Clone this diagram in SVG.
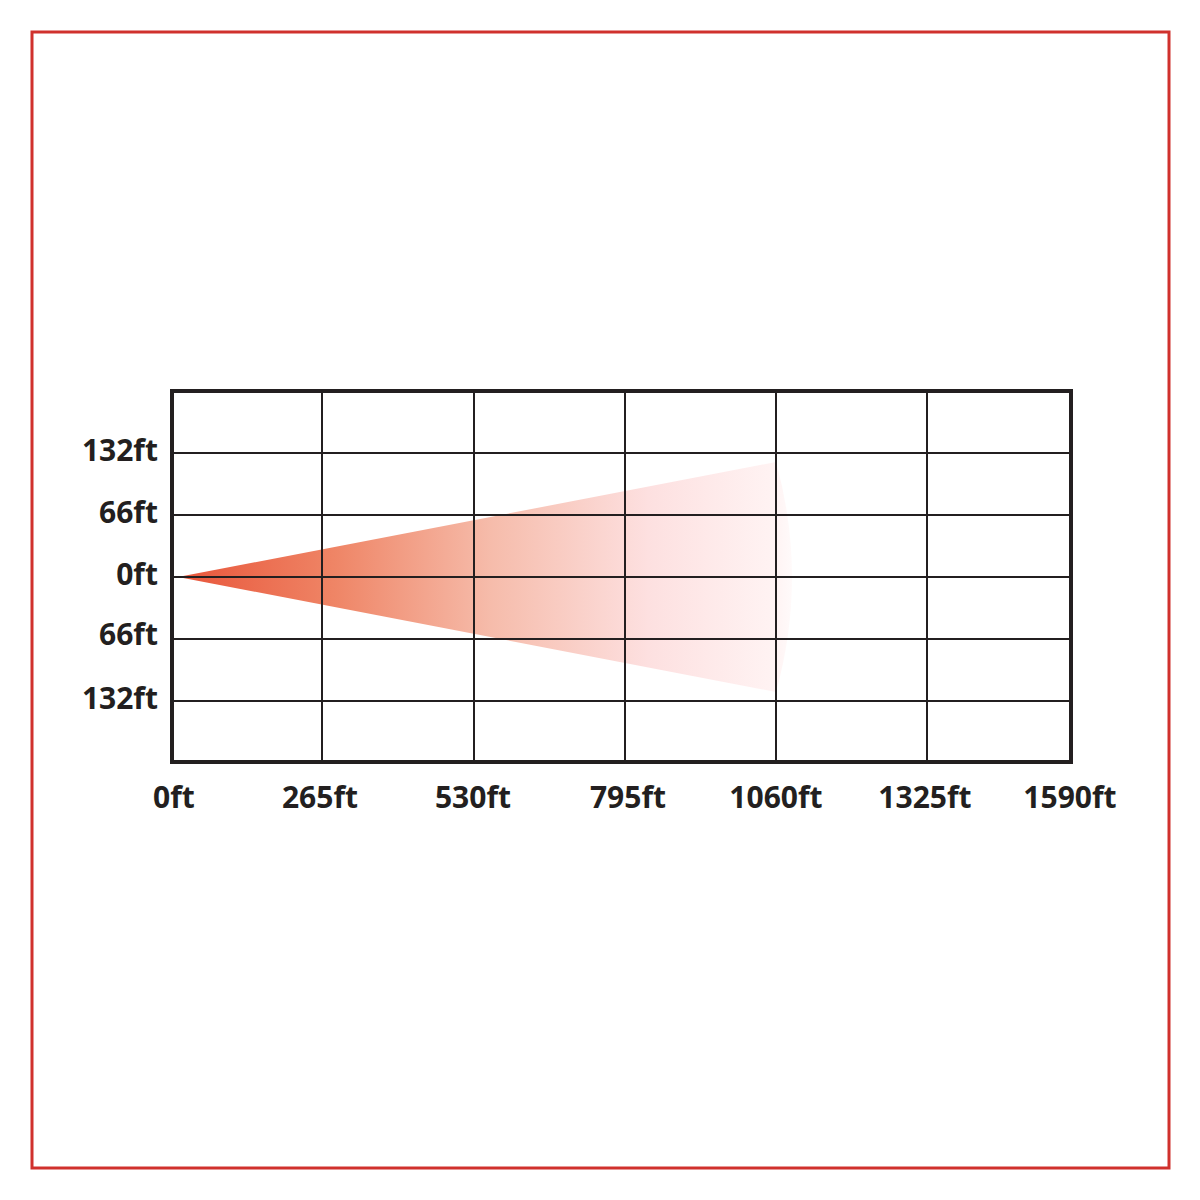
<svg xmlns="http://www.w3.org/2000/svg" width="1200" height="1200" viewBox="0 0 1200 1200">
<style>
.lbl{font-family:"Open Sans","Liberation Sans",sans-serif;font-weight:700;font-size:30px;fill:#231f20}
.y{text-anchor:end}
.x{text-anchor:middle}
.grid{stroke:#231f20;stroke-width:2;fill:none}
</style>
<defs>
<linearGradient id="beamGrad" gradientUnits="userSpaceOnUse" x1="178" y1="0" x2="805" y2="0">
<stop offset="0" stop-color="#e8553a"/>
<stop offset="0.25" stop-color="#ef8566"/>
<stop offset="0.5" stop-color="#f6bcab"/>
<stop offset="0.75" stop-color="#fde0e0"/>
<stop offset="0.95" stop-color="#fff3f3"/>
<stop offset="1" stop-color="#ffffff"/>
</linearGradient>
</defs>
<rect width="1200" height="1200" fill="#ffffff"/>
<rect x="32" y="32" width="1137" height="1136" fill="none" stroke="#d0312d" stroke-width="3"/>
<g id="beam">
<path d="M178,577 L776,462 Q808,577 776,692 Z" fill="url(#beamGrad)"/>
</g>
<g id="grid" class="grid">
<line x1="322" y1="391" x2="322" y2="762"/>
<line x1="474" y1="391" x2="474" y2="762"/>
<line x1="625" y1="391" x2="625" y2="762"/>
<line x1="776" y1="391" x2="776" y2="762"/>
<line x1="927" y1="391" x2="927" y2="762"/>
<line x1="172" y1="453" x2="1071" y2="453"/>
<line x1="172" y1="515" x2="1071" y2="515"/>
<line x1="172" y1="577" x2="1071" y2="577"/>
<line x1="172" y1="639" x2="1071" y2="639"/>
<line x1="172" y1="701" x2="1071" y2="701"/>
</g>
<g id="frame">
<rect x="172" y="391" width="899" height="371" fill="none" stroke="#231f20" stroke-width="4"/>
</g>
<g id="y-labels">
<text class="lbl y" x="158" y="461">132ft</text>
<text class="lbl y" x="158" y="523">66ft</text>
<text class="lbl y" x="158" y="585">0ft</text>
<text class="lbl y" x="158" y="645">66ft</text>
<text class="lbl y" x="158" y="709">132ft</text>
</g>
<g id="x-labels">
<text class="lbl x" x="174" y="808">0ft</text>
<text class="lbl x" x="320" y="808">265ft</text>
<text class="lbl x" x="473" y="808">530ft</text>
<text class="lbl x" x="628" y="808">795ft</text>
<text class="lbl x" x="776" y="808">1060ft</text>
<text class="lbl x" x="925" y="808">1325ft</text>
<text class="lbl x" x="1070" y="808">1590ft</text>
</g>
</svg>
